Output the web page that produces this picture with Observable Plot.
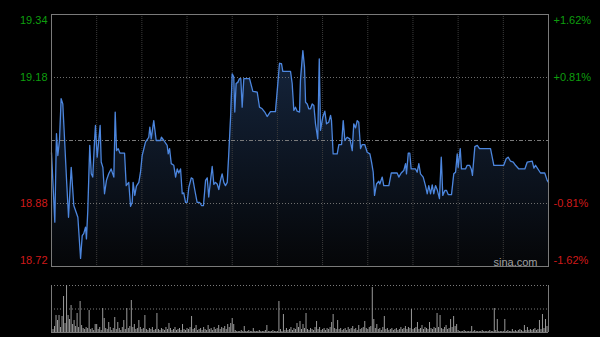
<!DOCTYPE html>
<html><head><meta charset="utf-8">
<script src="https://cdn.jsdelivr.net/npm/d3@7"></script>
<script src="https://cdn.jsdelivr.net/npm/@observablehq/plot@0.6"></script>
<style>
html,body{margin:0;padding:0;background:#000;}
#wrap{position:relative;width:600px;height:337px;overflow:hidden;background:#000;}
#wrap svg{position:absolute;left:0;display:block;}
</style></head><body><div id="wrap"></div>
<script>
// minutes since 9:30 (HK session, 330 trading minutes)
const minutes = [0,2.2,3.3,4.2,5.3,6.4,7.5,8.6,10,11.3,13.1,14.8,17.5,19.3,20.4,21.4,22.6,23.2,24.1,25.4,26.4,27.4,28.6,29.2,30.3,31.4,32.3,33,34.1,35.2,36.5,38,39.6,41.4,42.3,43.2,44.3,45.4,48.5,49.6,51.3,52.5,53.6,54.2,55.3,56.4,58,59.1,60.2,62.4,64.6,65.3,66.2,67.9,69.5,72.4,73,74.6,76.8,77.5,78.4,79.5,81.2,82.4,83.5,84.5,85.7,86.8,87.8,89,90.1,91.2,92.8,93.8,95.2,96.7,98.3,99.6,100.9,102.3,103.4,104.4,105.6,106.7,107.8,108.9,110,111.1,112.2,113.3,114.4,115.5,116.7,117.7,118.9,120,121,121.7,122.6,123.7,124.8,125.7,126.6,127.7,131.5,133.7,136.6,138.1,139.9,141.6,143.2,145.4,148.7,149.9,151.4,152.7,153.6,158.7,159.8,160.9,162,163.1,164.7,165.3,166.9,168,168.7,169.8,170.8,172,173.1,174.2,175.3,176.8,177.8,178.6,180.1,181.5,182.6,184.1,185.3,185.9,187,189.7,190.8,192.6,193.7,194.8,196.3,198.1,199.7,200.7,201.9,203,204,205.2,206.3,208,209.6,211.4,212.5,213.6,214.5,215.8,217.3,218,219.6,220.6,224,225.6,229.5,230.6,232.2,233.9,235.1,235.7,236.9,237.9,238.8,241.7,242.8,243.9,245,246.8,248.3,249.5,250.5,251.7,252.8,253.8,255,256.1,257.6,258.8,259.8,261.2,262.3,263.4,265.6,267.1,268.3,269.4,270,271.4,272.2,274.9,276,277.6,278.7,279.5,281.1,282.7,284.2,291.5,293.7,300.3,301.9,303.2,304.8,306.6,308.1,310.3,314.3,315.9,319.2,320.3,321.4,324.7,327.5,329.1,330];
const prices = [19.000,18.829,19.047,18.993,19.030,19.133,19.120,19.038,18.932,18.841,18.964,18.870,18.841,18.740,18.796,18.801,18.817,18.788,18.858,19.018,18.948,18.940,19.030,19.067,18.989,19.030,19.067,18.977,18.964,18.899,18.932,18.948,18.960,18.940,19.100,19.005,19.010,18.999,18.999,18.919,18.927,18.868,18.878,18.927,18.895,18.918,18.927,18.952,18.993,19.026,19.038,19.063,19.034,19.079,19.030,19.030,19.038,19.030,19.018,18.997,19.010,18.973,18.969,18.940,18.960,18.950,18.960,18.899,18.901,18.878,18.878,18.915,18.938,18.936,18.907,18.878,18.878,18.870,18.870,18.932,18.938,18.891,18.932,18.966,18.922,18.927,18.923,18.909,18.932,18.948,18.927,18.919,18.927,18.997,19.087,19.194,19.186,19.100,19.170,19.173,19.182,19.182,19.112,19.182,19.182,19.151,19.149,19.112,19.108,19.100,19.089,19.101,19.101,19.153,19.220,19.219,19.200,19.200,19.170,19.104,19.112,19.102,19.100,19.178,19.251,19.210,19.124,19.120,19.108,19.108,19.120,19.116,19.071,19.034,19.231,19.055,19.087,19.102,19.071,19.075,19.092,19.079,18.997,18.997,19.020,19.020,19.079,19.030,19.038,19.034,19.005,19.071,19.061,19.079,19.075,19.010,19.020,19.020,19.001,18.997,18.977,18.952,18.895,18.923,18.930,18.923,18.940,18.919,18.919,18.950,18.950,18.940,18.950,18.956,18.973,18.948,18.999,18.999,18.960,18.960,18.952,18.973,18.948,18.940,18.919,18.899,18.919,18.899,18.921,18.899,18.919,18.909,18.887,18.989,18.895,18.907,18.907,18.897,18.897,18.948,18.952,18.997,18.964,19.010,18.960,18.960,18.969,18.969,18.960,18.944,19.015,19.018,19.010,19.010,18.969,18.969,18.985,18.989,18.979,18.977,18.969,18.960,18.960,18.977,18.979,18.962,18.969,18.950,18.950,18.932,18.927];
// per-minute volume (relative units), minute 0..330
const volumes = [
5,3,6,17,12,17,5,16,36,9,47,17,13,27,8,12,6,19,5,31,7,4,3,5,4,22,3,4,2,8,
8,3,5,2,24,14,4,3,10,5,2,4,15,3,10,4,2,5,12,3,24,4,6,32,5,8,3,4,12,5,
3,4,17,3,2,4,3,5,2,3,19,3,2,4,3,2,5,3,9,4,2,3,5,2,3,4,2,8,3,2,
4,3,5,16,3,4,7,2,3,4,2,5,3,2,7,3,4,2,5,3,4,7,3,5,4,6,3,8,5,9,
14,8,2,1,1,1,2,1,6,1,1,2,1,1,4,1,1,1,2,1,1,1,2,7,1,1,1,2,1,1,
1,31,3,1,18,2,4,2,3,5,2,4,3,9,5,11,3,8,4,19,3,2,4,3,2,5,11,3,5,2,
3,4,2,4,3,5,10,18,4,3,12,3,4,2,3,4,2,5,3,4,6,3,4,2,7,3,4,5,11,4,
3,5,6,45,13,4,8,3,4,2,5,16,3,4,2,3,4,2,3,4,2,3,5,3,4,6,3,5,4,23,
3,4,5,10,3,4,7,3,5,4,3,10,4,3,5,4,19,5,17,4,3,5,7,3,4,13,5,16,6,8,
2,1,1,1,2,1,1,1,1,6,1,2,1,1,1,1,2,1,1,1,1,2,1,1,24,2,13,1,1,1,
1,13,1,2,1,1,3,1,2,1,2,3,2,1,7,2,5,2,3,2,3,4,2,3,12,3,18,4,13,6,15];
const yMin = 18.72, yMax = 19.34;
const prevClose = 19.03;
const timeGrid = [30,60,90,120,150,180,210,240,270,300];
const leftTop = [{v:19.34, t:"19.34"}];
const leftMid = [{v:19.185, t:"19.18", c:"#0e9e0e"}, {v:18.875, t:"18.88", c:"#d01a1a"}];
const leftBot = [{v:18.72, t:"18.72"}];
const rightTop = [{v:19.34, t:"+1.62%"}];
const rightMid = [{v:19.185, t:"+0.81%", c:"#0e9e0e"}, {v:18.875, t:"-0.81%", c:"#d01a1a"}];
const rightBot = [{v:18.72, t:"-1.62%"}];
const GREEN = "#0e9e0e", RED = "#d01a1a";

const pts = minutes.map((m, i) => ({m, p: prices[i]}));
const vols = volumes.map((v, i) => ({m: i, v}));

const defs = () => {
  const ns = "http://www.w3.org/2000/svg";
  const d = document.createElementNS(ns, "defs");
  d.innerHTML = '<linearGradient id="pfill" x1="0" y1="0" x2="0" y2="1"><stop offset="0" stop-color="#15253d"/><stop offset="1" stop-color="#050608"/></linearGradient>';
  return d;
};
const font = "'Liberation Sans', Arial, sans-serif";

const main = Plot.plot({
  width: 600, height: 270,
  marginLeft: 51, marginRight: 52, marginTop: 14, marginBottom: 4,
  x: {domain: [0, 330], axis: null},
  y: {domain: [yMin, yMax], axis: null},
  style: {background: "transparent", fontFamily: font, fontSize: "11px", overflow: "visible"},
  marks: [
    defs,
    Plot.areaY(pts, {x: "m", y1: yMin, y2: "p", fill: "url(#pfill)"}),
    Plot.ruleX(timeGrid, {stroke: "#3c3c3c", strokeDasharray: "1,1"}),
    Plot.ruleY([19.185, 18.875], {stroke: "#6e6e6e", strokeDasharray: "1,2"}),
    Plot.ruleY([prevClose], {stroke: "#7a7a7a", strokeDasharray: "4,2,1,2"}),
    Plot.line(pts, {x: "m", y: "p", stroke: "#4c86de", strokeWidth: 1.3}),
    Plot.frame({stroke: "#7a7a7a"}),
    Plot.text(leftTop, {y: "v", text: "t", frameAnchor: "left", textAnchor: "end", dx: -4, dy: 6, fill: GREEN}),
    Plot.text(leftMid, {y: "v", text: "t", frameAnchor: "left", textAnchor: "end", dx: -4, fill: d => d.c}),
    Plot.text(leftBot, {y: "v", text: "t", frameAnchor: "left", textAnchor: "end", dx: -4, dy: -6, fill: RED}),
    Plot.text(rightTop, {y: "v", text: "t", frameAnchor: "right", textAnchor: "start", dx: 5, dy: 6, fill: GREEN}),
    Plot.text(rightMid, {y: "v", text: "t", frameAnchor: "right", textAnchor: "start", dx: 5, fill: d => d.c}),
    Plot.text(rightBot, {y: "v", text: "t", frameAnchor: "right", textAnchor: "start", dx: 5, dy: -6, fill: RED}),
    Plot.text(["sina.com"], {frameAnchor: "bottom-right", textAnchor: "end", lineAnchor: "bottom", dx: -11, dy: -1, fill: "#a0a0a0", fontSize: 11})
  ]
});
main.style.top = "0px";

const vol = Plot.plot({
  width: 600, height: 67,
  marginLeft: 51, marginRight: 52, marginTop: 15, marginBottom: 5,
  x: {domain: [0, 330], axis: null},
  y: {domain: [0, 47], axis: null},
  style: {background: "transparent", overflow: "visible"},
  marks: [
    Plot.ruleY([47, 23.5], {stroke: "#7a7a7a", strokeDasharray: "1,2"}),
    Plot.ruleX(vols, {x: "m", y1: 0, y2: "v", stroke: "#9a9a9a", strokeWidth: 1}),
    Plot.ruleX([0, 330], {stroke: "#7a7a7a"}),
    Plot.ruleY([0], {stroke: "#7a7a7a"})
  ]
});
vol.style.top = "270px";

const wrap = document.getElementById("wrap");
wrap.appendChild(main);
wrap.appendChild(vol);
</script>
</body></html>
